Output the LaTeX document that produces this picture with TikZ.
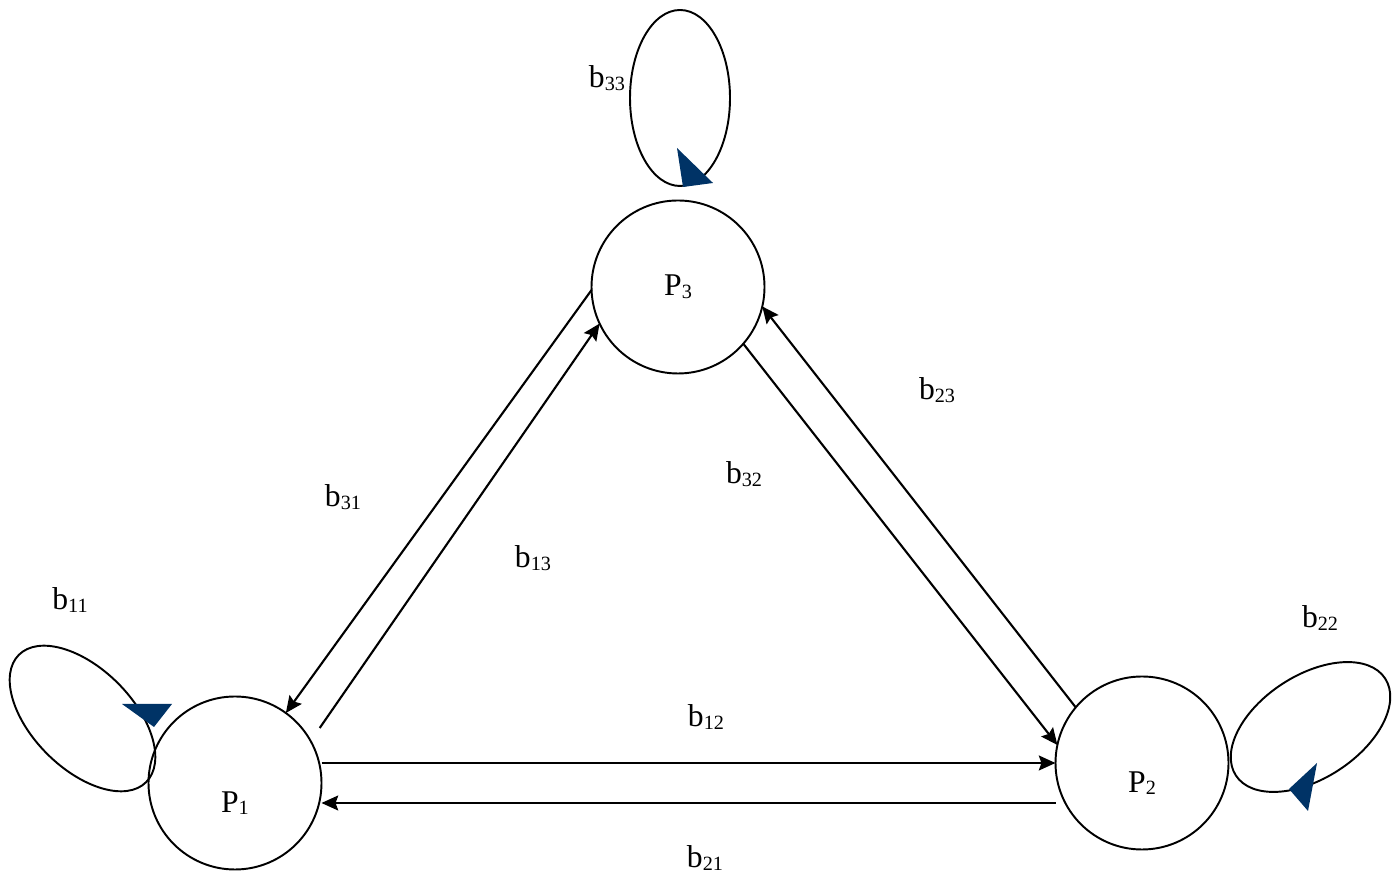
\documentclass[tikz,border=0pt]{standalone}
\usepackage{fontspec}
\setmainfont{Liberation Serif}
\usetikzlibrary{automata}
\usetikzlibrary{arrows.meta}
\definecolor{tipblue}{RGB}{0,51,102}
\newcommand{\subidx}[1]{\raisebox{-1.5pt}{\fontsize{11.5}{12}\selectfont #1}}
\tikzset{
    every state/.style={
        line width=1.1pt,
        minimum size=3.46cm,
        inner sep=0pt,
        outer sep=0pt,
        font=\fontsize{18}{20}\selectfont},
    every edge/.style={
        draw,
        -{Stealth[length=9.5pt,width=8.5pt,inset=1.5pt]},
        line width=1.2pt},
    weight/.style={font=\fontsize{18}{20}\selectfont},
    selfloop/.style={line width=1.1pt},
    looptip/.style={fill=tipblue}}

\begin{document}
\begin{tikzpicture}
        \useasboundingbox (0,0) rectangle (27.98,17.56);
        \node[state] (P3) at (13.56,11.82) {P\subidx{3}};
        \node[state] (P1) at (4.70,1.90) {};
        \node[state] (P2) at (22.84,2.30) {};
        \node[weight] (n1) at ([yshift=-0.4cm]P1.center) {P\subidx{1}};
        \node[weight] (n2) at ([yshift=-0.4cm]P2.center) {P\subidx{2}};
        \coordinate (b13s) at ([shift={(33:2.02)}]P1.center);
        \coordinate (b21s) at ([yshift=-0.8cm]P2.west);

        \draw (P3.182) edge (P1.54);
        \draw (b13s) edge (P3.205);
        \draw (P3.319) edge (P2.168);
        \draw (P2.140) edge (P3.347);
        \draw (P1.east |- P2.west) edge (P2.west);
        \draw (b21s) edge (b21s -| P1.east);

        \draw[selfloop] (13.60,15.60) ellipse [x radius=1.0cm, y radius=1.76cm];
        \draw[selfloop, rotate around={-45:(1.65,3.19)}] (1.65,3.19) ellipse [x radius=1.8cm, y radius=1.0cm];
        \draw[selfloop, rotate around={33:(26.21,3.02)}] (26.21,3.02) ellipse [x radius=1.78cm, y radius=1.03cm];
        \fill[looptip] (13.54,14.60) -- (14.26,13.90) -- (13.66,13.82) -- cycle;
        \fill[looptip] (2.44,3.48) -- (3.44,3.48) -- (3.08,3.02) -- cycle;
        \fill[looptip] (26.34,2.30) -- (25.78,1.78) -- (26.16,1.34) -- cycle;

        \node[weight] (w31) at (6.86,7.62) {b\subidx{31}};
        \node[weight] (w13) at (10.66,6.40) {b\subidx{13}};
        \node[weight] (w32) at (14.88,8.08) {b\subidx{32}};
        \node[weight] (w23) at (18.74,9.76) {b\subidx{23}};
        \node[weight] (w12) at (14.12,3.22) {b\subidx{12}};
        \node[weight] (w21) at (14.10,0.40) {b\subidx{21}};
        \node[weight] (w11) at (1.40,5.56) {b\subidx{11}};
        \node[weight] (w22) at (26.40,5.20) {b\subidx{22}};
        \node[weight] (w33) at (12.14,16.00) {b\subidx{33}};
    \end{tikzpicture}
\end{document}
